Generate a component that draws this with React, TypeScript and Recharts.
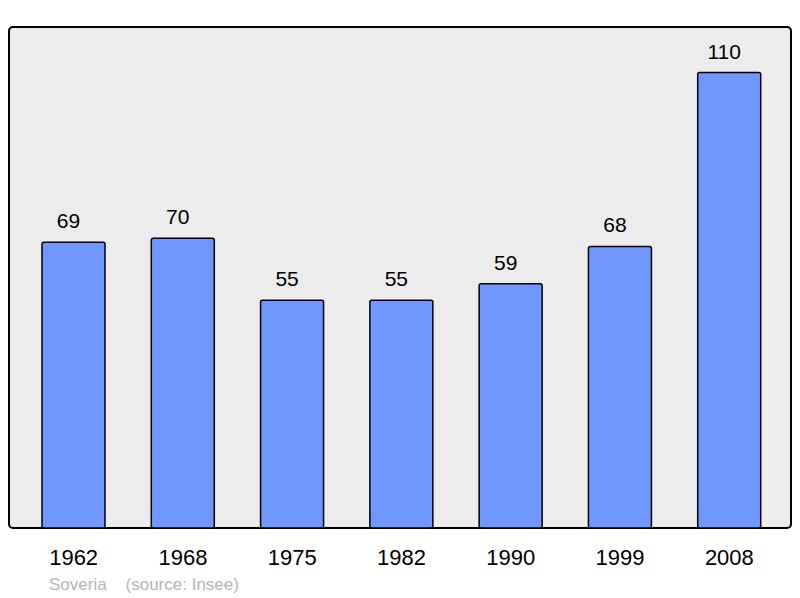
import { Bar, BarChart, LabelList, ReferenceArea, XAxis, YAxis } from "recharts";

const years = ["1962", "1968", "1975", "1982", "1990", "1999", "2008"];
const population = [69, 70, 55, 55, 59, 68, 110];
const yMax = 121;

const data = years.map((year, i) => ({ year, population: population[i] }));

const font = "'Liberation Sans', Arial, sans-serif";

export default function App() {
  return (
    <div style={{ position: "absolute", left: 0, top: 0, width: 800, height: 598, background: "#fff", fontFamily: font }}>
      <BarChart width={800} height={598} data={data} margin={{ top: 27, right: 9, bottom: 0, left: 9 }}>
        <XAxis
          dataKey="year"
          height={70}
          axisLine={false}
          tickLine={false}
          padding={{ left: 10, right: 7 }}
          tickMargin={15}
          tick={{ fill: "#000", fontSize: 22, fontFamily: font }}
        />
        {/* unpadded axis so the frame covers the whole plot area */}
        <XAxis xAxisId="frame" dataKey="year" hide />
        <YAxis hide domain={[0, yMax]} />
        <ReferenceArea
          xAxisId="frame"
          x1={years[0]}
          x2={years[years.length - 1]}
          y1={0}
          y2={yMax}
          ifOverflow="extendDomain"
          shape={(p: any) => (
            <rect x={p.x} y={p.y} width={p.width} height={p.height} rx={4} fill="#ececec" stroke="#000" strokeWidth={2} />
          )}
        />
        <Bar dataKey="population" fill="#7096ff" stroke="#000" strokeWidth={1.5} radius={2} barSize={63} isAnimationActive={false}>
          <LabelList dataKey="population" position="top" offset={14} dx={-5} fill="#000" fontSize={21} fontFamily={font} />
        </Bar>
      </BarChart>
      <div style={{ position: "absolute", left: 49, top: 575, fontSize: 17, color: "#b4b4b4", whiteSpace: "pre" }}>
        {"Soveria    (source: Insee)"}
      </div>
    </div>
  );
}
